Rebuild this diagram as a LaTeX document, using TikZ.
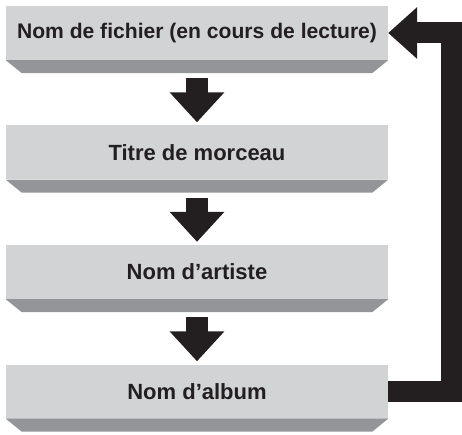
\documentclass[tikz,border=0pt]{standalone}
\usepackage{fontspec}
\setmainfont{Liberation Sans}
\usetikzlibrary{positioning, arrows.meta}
\definecolor{boxgray}{RGB}{209,211,212}
\definecolor{shadegray}{RGB}{147,149,152}
\definecolor{inkblack}{RGB}{35,31,32}

\begin{document}
\begin{tikzpicture}
    [
        x=1pt, y=1pt, node distance=119.5pt, on grid,
        menu_box/.style={rectangle, fill=boxgray, minimum width=382pt, minimum height=54pt, inner sep=0pt, text=inkblack, font=\fontsize{22}{26}\selectfont\bfseries},
        shade_face/.style={fill=shadegray},
        down_arrow/.style={draw=inkblack, line width=22pt, -{Triangle[width=53pt, length=30pt]}},
        back_arrow/.style={draw=inkblack, line width=21pt, line join=miter, -{Triangle[width=50pt, length=29pt]}},
    ]
        \useasboundingbox (0,0) rectangle (462,434);
        \node[menu_box, font=\fontsize{21.1}{25}\selectfont\bfseries] (file) at (197,401) {Nom de fichier (en cours de lecture)};
        \node[menu_box] (title) [below = of file] {Titre de morceau};
        \node[menu_box] (artist) [below = of title] {Nom d’artiste};
        \node[menu_box] (album) [below = of artist] {Nom d’album};
        \foreach \b in {file, title, artist, album}
            \fill[shade_face] (\b.south west) -- (\b.south east) -- ++(-16,-13) -- ([shift={(16,-13)}]\b.south west) -- cycle;
        \draw[down_arrow] ([yshift=-18pt]file.south) -- ([yshift=3pt]title.north);
        \draw[down_arrow] ([yshift=-18pt]title.south) -- ([yshift=3pt]artist.north);
        \draw[down_arrow] ([yshift=-18pt]artist.south) -- ([yshift=3pt]album.north);
        \draw[back_arrow] (album.east) -- ++(63,0) |- (file.east);
    \end{tikzpicture}
\end{document}
